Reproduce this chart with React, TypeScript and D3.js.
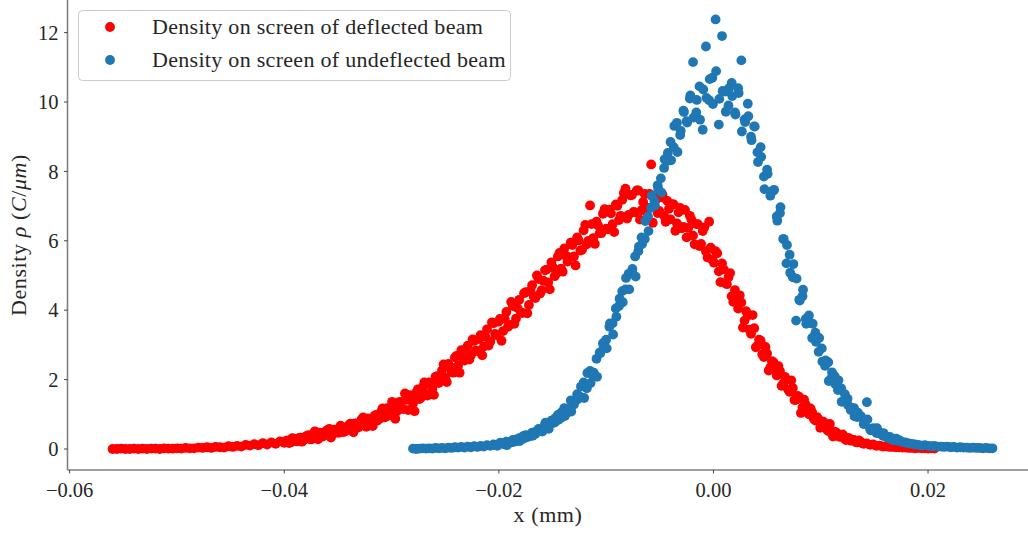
import React from "react";
import * as d3 from "d3";

// ---------- data (x in mm, density in C/µm) ----------
const deflectedBeamA: [number, number][] = [
  [-0.0560,0.00],[-0.0556,0.00],[-0.0552,0.01],[-0.0548,0.00],[-0.0544,0.00],[-0.0540,0.01],[-0.0536,0.00],[-0.0532,0.01],
  [-0.0528,0.00],[-0.0524,0.01],[-0.0520,0.01],[-0.0516,0.00],[-0.0512,0.02],[-0.0508,0.01],[-0.0504,0.01],[-0.0500,0.02],
  [-0.0496,0.01],[-0.0492,0.03],[-0.0488,0.02],[-0.0484,0.02],[-0.0480,0.04],[-0.0476,0.03],[-0.0472,0.05],[-0.0468,0.03],
  [-0.0464,0.06],[-0.0460,0.05],[-0.0456,0.04],[-0.0452,0.08],[-0.0448,0.06],[-0.0444,0.09],[-0.0440,0.07],[-0.0436,0.12],
  [-0.0432,0.10],[-0.0428,0.14],[-0.0424,0.11],[-0.0420,0.17],[-0.0416,0.13],[-0.0412,0.19],[-0.0408,0.15],[-0.0404,0.22],
  [-0.0400,0.18],[-0.0397,0.25],[-0.0394,0.19],[-0.0391,0.30],[-0.0388,0.22],[-0.0385,0.33],[-0.0382,0.26],[-0.0379,0.38],
  [-0.0376,0.28],[-0.0373,0.41],[-0.0370,0.31],[-0.0367,0.47],[-0.0364,0.36],[-0.0361,0.52],[-0.0358,0.58],[-0.0355,0.43],
  [-0.0352,0.56],[-0.0349,0.47],[-0.0346,0.63],[-0.0343,0.52],[-0.0340,0.68],[-0.0337,0.57],[-0.0334,0.74],[-0.0331,0.62],
  [-0.0328,0.85],[-0.0325,0.69],[-0.0322,0.88],[-0.0319,0.74],[-0.0316,0.95],[-0.0313,0.82],[-0.0310,1.06],[-0.0307,0.91],
  [-0.0304,1.18],[-0.0301,0.98],[-0.0298,1.25],[-0.0295,1.09],[-0.0292,1.36],[-0.0289,1.15],[-0.0286,1.42],[-0.0283,1.55],
  [-0.0280,1.31],[-0.0277,1.62],[-0.0274,1.44],[-0.0271,1.78],[-0.0268,1.58],[-0.0265,1.92],[-0.0262,1.74],[-0.0259,2.08],
  [-0.0256,1.90],[-0.0253,2.26],[-0.0250,2.05],[-0.0247,2.45],[-0.0244,2.22],[-0.0241,2.64],[-0.0238,2.40],[-0.0235,2.85],
  [-0.0232,2.55],[-0.0229,2.98],[-0.0226,2.70],[-0.0223,3.12],[-0.0220,2.82],[-0.0217,3.28],[-0.0214,2.95],[-0.0211,3.45],
  [-0.0208,3.10],[-0.0205,3.62],[-0.0202,3.28],[-0.0199,3.75],[-0.0196,3.40],[-0.0193,3.95],[-0.0190,3.58],[-0.0187,4.12],
  [-0.0184,3.76],[-0.0181,4.30],[-0.0178,3.92],[-0.0175,4.52],[-0.0172,4.15],[-0.0169,4.72],[-0.0166,4.35],[-0.0163,4.90],
  [-0.0160,4.58],[-0.0157,5.15],[-0.0154,4.80],[-0.0151,5.38],[-0.0148,4.98],[-0.0145,5.55],[-0.0142,5.20],[-0.0139,5.78],
  [-0.0136,5.40],[-0.0133,5.95],[-0.0130,5.55],[-0.0127,6.10],[-0.0124,5.72],[-0.0121,6.30],[-0.0118,5.90],[-0.0115,7.02],
  [-0.0112,6.08],[-0.0109,6.55],[-0.0106,6.22],[-0.0103,6.78],[-0.0100,6.35],[-0.0097,6.90],[-0.0094,6.48],[-0.0091,7.05],
  [-0.0088,6.60],[-0.0085,7.18],[-0.0082,7.50],[-0.0079,6.75],[-0.0076,7.32],[-0.0073,6.82],[-0.0070,7.45],[-0.0067,6.88],
  [-0.0064,7.35],[-0.0061,6.95],[-0.0058,8.20],[-0.0055,7.30],[-0.0052,6.80],[-0.0049,7.25],[-0.0046,6.72],[-0.0043,7.15],
  [-0.0040,6.62],[-0.0037,7.05],[-0.0034,6.50],[-0.0031,6.95],[-0.0028,6.40],[-0.0025,6.10],[-0.0022,6.72],[-0.0019,6.15],
  [-0.0016,6.48],[-0.0013,5.85],[-0.0010,6.28],[-0.0007,5.70],[-0.0004,6.55],[-0.0001,5.45],[0.0002,5.70],[0.0005,5.12],
  [0.0008,5.35],[0.0011,4.78],[0.0014,4.95],[0.0017,4.40],[0.0020,4.58],[0.0023,4.05],[0.0026,4.22],[0.0029,3.70],
  [0.0032,3.85],[0.0035,3.32],[0.0038,3.48],[0.0041,2.98],[0.0044,3.12],[0.0047,2.65],[0.0050,2.75],[0.0053,2.35],
  [0.0056,2.50],[0.0059,2.12],[0.0062,2.25],[0.0065,1.88],[0.0068,2.00],[0.0071,1.65],[0.0074,1.76],[0.0077,1.42],
  [0.0080,1.50],[0.0083,1.20],[0.0086,1.28],[0.0089,1.00],[0.0092,1.06],[0.0095,0.82],[0.0098,0.86],[0.0101,0.68],
  [0.0104,0.70],[0.0107,0.52],[0.0110,0.47],[0.0113,0.50],[0.0116,0.38],[0.0119,0.40],[0.0122,0.30],[0.0125,0.32],
  [0.0128,0.24],[0.0131,0.26],[0.0134,0.19],[0.0137,0.21],[0.0140,0.15],[0.0143,0.16],[0.0146,0.12],[0.0149,0.13],
  [0.0152,0.09],[0.0155,0.10],[0.0158,0.07],[0.0161,0.08],[0.0164,0.06],[0.0167,0.06],[0.0170,0.05],[0.0173,0.05],
  [0.0176,0.04],[0.0179,0.04],[0.0182,0.03],[0.0185,0.03],[0.0188,0.02],[0.0191,0.03],[0.0194,0.02],[0.0197,0.02],
  [0.0200,0.01],[0.0203,0.02],[0.0206,0.01],
];

const deflectedBeamB: [number, number][] = [
  [-0.03985,0.23],[-0.03955,0.17],[-0.03925,0.31],[-0.03895,0.23],[-0.03865,0.31],[-0.03835,0.21],[-0.03805,0.31],[-0.03775,0.40],
  [-0.03745,0.28],[-0.03715,0.51],[-0.03685,0.28],[-0.03655,0.44],[-0.03625,0.41],[-0.03595,0.55],[-0.03565,0.33],[-0.03535,0.56],
  [-0.03505,0.47],[-0.03475,0.67],[-0.03445,0.49],[-0.03415,0.59],[-0.03385,0.73],[-0.03355,0.48],[-0.03325,0.73],[-0.03295,0.66],
  [-0.03265,0.91],[-0.03235,0.64],[-0.03205,0.83],[-0.03175,0.66],[-0.03145,0.98],[-0.03115,0.87],[-0.03085,1.17],[-0.03055,0.92],
  [-0.03025,1.08],[-0.02995,1.36],[-0.02965,0.87],[-0.02935,1.34],[-0.02905,1.17],[-0.02875,1.60],[-0.02845,1.12],[-0.02815,1.48],
  [-0.02785,1.09],[-0.02755,1.72],[-0.02725,1.48],[-0.02695,1.92],[-0.02665,1.54],[-0.02635,1.85],[-0.02605,1.56],[-0.02575,2.10],
  [-0.02545,1.98],[-0.02515,2.44],[-0.02485,1.93],[-0.02455,2.37],[-0.02425,2.20],[-0.02395,2.68],[-0.02365,2.20],[-0.02335,2.63],
  [-0.02305,2.88],[-0.02275,2.58],[-0.02245,3.16],[-0.02215,2.84],[-0.02185,3.17],[-0.02155,2.70],[-0.02125,3.23],[-0.02095,2.98],
  [-0.02065,3.65],[-0.02035,3.32],[-0.02005,3.67],[-0.01975,3.12],[-0.01945,3.75],[-0.01915,3.52],[-0.01885,4.24],[-0.01855,3.61],
  [-0.01825,4.06],[-0.01795,3.94],[-0.01765,4.49],[-0.01735,3.91],[-0.01705,4.56],[-0.01675,4.39],[-0.01645,5.00],[-0.01615,4.48],
  [-0.01585,4.85],[-0.01555,5.17],[-0.01525,4.60],[-0.01495,5.23],[-0.01465,5.06],[-0.01435,5.65],[-0.01405,5.11],[-0.01375,5.57],
  [-0.01345,5.52],[-0.01315,5.88],[-0.01285,5.29],[-0.01255,6.01],[-0.01225,5.74],[-0.01195,6.46],[-0.01165,6.00],[-0.01135,6.48],
  [-0.01105,5.91],[-0.01075,6.44],[-0.01045,6.22],[-0.01015,6.91],[-0.00985,6.33],[-0.00955,6.79],[-0.00925,6.25],[-0.00895,7.01],
  [-0.00865,6.72],[-0.00835,7.38],[-0.00805,6.64],[-0.00775,7.31],[-0.00745,6.83],[-0.00715,7.45],[-0.00685,6.61],[-0.00655,7.12],
  [-0.00625,6.84],[-0.00595,7.35],[-0.00565,6.52],[-0.00535,7.19],[-0.00505,6.86],[-0.00475,7.33],[-0.00445,6.55],[-0.00415,6.92],
  [-0.00385,7.06],[-0.00355,6.29],[-0.00325,6.82],[-0.00295,6.36],[-0.00265,6.89],[-0.00235,6.37],[-0.00205,6.61],[-0.00175,5.90],
  [-0.00145,6.48],[-0.00115,5.91],[-0.00085,6.39],[-0.00055,5.52],[-0.00025,5.80],[0.00005,5.37],[0.00035,5.64],[0.00065,4.81],
  [0.00095,5.18],[0.00125,4.75],[0.00155,5.07],[0.00185,4.24],[0.00215,4.36],[0.00245,4.43],[0.00275,3.50],[0.00305,3.97],
  [0.00335,3.44],[0.00365,3.86],[0.00395,2.93],[0.00425,3.15],[0.00455,2.73],[0.00485,2.94],[0.00515,2.26],[0.00545,2.53],
  [0.00575,2.27],[0.00605,2.39],[0.00635,1.82],[0.00665,2.08],[0.00695,1.72],[0.00725,1.98],[0.00755,1.41],[0.00785,1.53],
  [0.00815,1.04],[0.00845,1.42],[0.00875,1.07],[0.00905,1.17],[0.00935,0.87],[0.00965,0.92],[0.00995,0.61],[0.01025,0.79],
  [0.01055,0.57],[0.01085,0.72],[0.01115,0.36],[0.01145,0.48],[0.01175,0.35],[0.01205,0.42],[0.01235,0.26],[0.01265,0.31],
  [0.01295,0.26],[0.01325,0.20],[0.01355,0.25],[0.01385,0.17],
];

const undeflectedBeamA: [number, number][] = [
  [-0.0280,0.01],[-0.0277,0.00],[-0.0274,0.01],[-0.0271,0.02],[-0.0268,0.01],[-0.0265,0.02],[-0.0262,0.01],[-0.0259,0.03],
  [-0.0256,0.02],[-0.0253,0.03],[-0.0250,0.02],[-0.0247,0.04],[-0.0244,0.03],[-0.0241,0.05],[-0.0238,0.04],[-0.0235,0.06],
  [-0.0232,0.04],[-0.0229,0.07],[-0.0226,0.05],[-0.0223,0.08],[-0.0220,0.06],[-0.0217,0.09],[-0.0214,0.07],[-0.0211,0.11],
  [-0.0208,0.09],[-0.0205,0.13],[-0.0202,0.11],[-0.0199,0.17],[-0.0196,0.14],[-0.0193,0.21],[-0.0190,0.18],[-0.0187,0.26],
  [-0.0184,0.22],[-0.0181,0.31],[-0.0178,0.29],[-0.0175,0.40],[-0.0172,0.36],[-0.0169,0.47],[-0.0166,0.43],[-0.0163,0.58],
  [-0.0160,0.52],[-0.0157,0.70],[-0.0154,0.62],[-0.0151,0.82],[-0.0148,0.76],[-0.0145,0.98],[-0.0142,0.90],[-0.0139,1.18],
  [-0.0136,1.05],[-0.0133,1.40],[-0.0130,1.28],[-0.0127,1.58],[-0.0124,1.50],[-0.0121,1.92],[-0.0118,1.75],[-0.0115,2.25],
  [-0.0112,2.10],[-0.0109,2.60],[-0.0106,2.78],[-0.0103,3.05],[-0.0100,3.15],[-0.0097,3.52],[-0.0094,3.62],[-0.0091,4.05],
  [-0.0088,4.12],[-0.0085,4.55],[-0.0082,4.60],[-0.0079,5.05],[-0.0076,5.12],[-0.0073,5.55],[-0.0070,5.70],[-0.0067,6.10],
  [-0.0064,6.05],[-0.0061,6.70],[-0.0058,6.95],[-0.0055,7.15],[-0.0052,7.60],[-0.0049,7.80],[-0.0046,8.10],[-0.0043,8.30],
  [-0.0040,8.85],[-0.0037,8.70],[-0.0034,9.40],[-0.0031,9.05],[-0.0028,9.75],[-0.0025,9.45],[-0.0022,10.10],[-0.0019,11.15],
  [-0.0016,9.70],[-0.0013,10.45],[-0.0010,9.20],[-0.0007,11.60],[-0.0004,10.05],[-0.0001,10.70],[0.0002,12.38],[0.0005,9.35],
  [0.0008,11.90],[0.0011,10.30],[0.0014,9.90],[0.0017,10.55],[0.0020,9.70],[0.0023,10.40],[0.0026,11.20],[0.0029,9.50],
  [0.0032,9.95],[0.0035,9.00],[0.0038,9.30],[0.0041,8.55],[0.0044,8.70],[0.0047,7.85],[0.0050,8.05],[0.0053,7.30],
  [0.0056,7.45],[0.0059,6.70],[0.0062,6.80],[0.0065,6.05],[0.0068,5.35],[0.0071,5.60],[0.0074,4.95],[0.0077,3.70],
  [0.0080,4.30],[0.0083,4.40],[0.0086,3.75],[0.0089,3.85],[0.0092,3.20],[0.0095,3.35],[0.0098,2.80],[0.0101,2.90],
  [0.0104,2.40],[0.0107,2.50],[0.0110,2.05],[0.0113,2.10],[0.0116,1.70],[0.0119,1.75],[0.0122,1.40],[0.0125,1.45],
  [0.0128,1.12],[0.0131,1.18],[0.0134,0.92],[0.0137,0.95],[0.0140,0.72],[0.0143,1.35],[0.0146,0.58],[0.0149,0.60],
  [0.0152,0.46],[0.0155,0.48],[0.0158,0.38],[0.0161,0.36],[0.0164,0.30],[0.0167,0.29],[0.0170,0.25],[0.0173,0.23],
  [0.0176,0.20],[0.0179,0.19],[0.0182,0.16],[0.0185,0.15],[0.0188,0.13],[0.0191,0.12],[0.0194,0.10],[0.0197,0.11],
  [0.0200,0.09],[0.0203,0.08],[0.0206,0.09],[0.0209,0.07],[0.0212,0.07],[0.0215,0.06],[0.0218,0.07],[0.0221,0.05],
  [0.0224,0.06],[0.0227,0.04],[0.0230,0.05],[0.0233,0.04],[0.0236,0.04],[0.0239,0.03],[0.0242,0.04],[0.0245,0.03],
  [0.0248,0.03],[0.0251,0.02],[0.0254,0.03],[0.0257,0.02],[0.0260,0.02],
];

const undeflectedBeamB: [number, number][] = [
  [-0.02015,0.09],[-0.01985,0.18],[-0.01955,0.16],[-0.01925,0.11],[-0.01895,0.20],[-0.01865,0.20],[-0.01835,0.28],[-0.01805,0.23],
  [-0.01775,0.37],[-0.01745,0.33],[-0.01715,0.40],[-0.01685,0.38],[-0.01655,0.50],[-0.01625,0.56],[-0.01595,0.50],[-0.01565,0.76],
  [-0.01535,0.58],[-0.01505,0.74],[-0.01475,0.89],[-0.01445,0.84],[-0.01415,1.06],[-0.01385,0.95],[-0.01355,1.15],[-0.01325,1.08],
  [-0.01295,1.38],[-0.01265,1.43],[-0.01235,1.80],[-0.01205,1.47],[-0.01175,2.19],[-0.01145,1.90],[-0.01115,2.20],[-0.01085,2.08],
  [-0.01055,2.76],[-0.01025,2.92],[-0.00995,2.90],[-0.00965,3.62],[-0.00935,3.30],[-0.00905,3.81],[-0.00875,4.33],[-0.00845,4.23],
  [-0.00815,4.93],[-0.00785,4.60],[-0.00755,5.19],[-0.00725,4.97],[-0.00695,5.83],[-0.00665,5.91],[-0.00635,6.57],[-0.00605,6.28],
  [-0.00575,7.30],[-0.00545,7.02],[-0.00515,7.50],[-0.00485,7.39],[-0.00455,8.35],[-0.00425,8.53],[-0.00395,8.32],[-0.00365,9.31],
  [-0.00335,8.56],[-0.00305,9.17],[-0.00275,9.71],[-0.00245,9.41],[-0.00215,10.19],[-0.00185,9.55],[-0.00155,10.06],[-0.00125,9.49],
  [-0.00095,10.36],[-0.00065,10.12],[-0.00035,10.66],[-0.00005,9.94],[0.00025,10.89],[0.00055,10.09],[0.00085,10.32],[0.00115,9.72],
  [0.00145,10.40],[0.00175,10.17],[0.00205,9.64],[0.00235,10.26],[0.00265,9.15],[0.00295,9.42],[0.00325,9.59],[0.00355,8.90],
  [0.00385,9.29],[0.00415,8.27],[0.00445,8.42],[0.00475,7.49],[0.00505,7.93],[0.00535,7.41],[0.00565,7.47],[0.00595,6.58],
  [0.00625,6.97],[0.00655,6.05],[0.00685,5.88],[0.00715,5.08],[0.00745,5.33],[0.00775,4.91],[0.00805,4.28],[0.00835,4.59],
  [0.00865,3.61],[0.00895,3.65],[0.00925,3.61],[0.00955,3.09],[0.00985,3.20],[0.01015,2.52],[0.01045,2.55],[0.01075,1.96],
  [0.01105,2.21],[0.01135,1.87],[0.01165,1.98],[0.01195,1.36],[0.01225,1.58],[0.01255,1.26],[0.01285,1.19],[0.01315,0.94],
  [0.01345,1.05],[0.01375,0.93],[0.01405,0.73],[0.01435,0.85],[0.01465,0.54],[0.01495,0.57],[0.01525,0.60],[0.01555,0.44],
  [0.01585,0.46],[0.01615,0.34],[0.01645,0.35],[0.01675,0.26],[0.01705,0.30],[0.01735,0.25],
];

const deflectedBeam = [...deflectedBeamA, ...deflectedBeamB];
const undeflectedBeam = [...undeflectedBeamA, ...undeflectedBeamB];

const xTicks = [-0.06, -0.04, -0.02, 0.0, 0.02];
const yTicks = [0, 2, 4, 6, 8, 10, 12];
const seriesLabels = [
  "Density on screen of deflected beam",
  "Density on screen of undeflected beam",
];
const seriesColors = ["#ff0000", "#1f77b4"];

// ---------- layout ----------
const W = 1028;
const H = 533;
const FONT = "'Liberation Serif', 'DejaVu Serif', serif";
const left = 67.5;
const bottom = 470;
const R = 4.9;

export default function App() {
  const x = d3.scaleLinear().domain([-0.0602, 0.0302]).range([left, left + 0.0904 * 10730]);
  const y = d3.scaleLinear().domain([-0.605, 12.94]).range([bottom, 0]);
  const fmtX = d3.format(".2f");
  const series = [deflectedBeam, undeflectedBeam];
  const textColor = "#262626";

  return (
    <svg
      width={W}
      height={H}
      viewBox={`0 0 ${W} ${H}`}
      style={{ position: "absolute", left: 0, top: 0, background: "#fff" }}
      fontFamily={FONT}
    >
      <rect x={0} y={0} width={W} height={H} fill="#fff" />
      {/* points */}
      {series.map((s, si) => (
        <g key={si} fill={seriesColors[si]}>
          {s.map((d, i) => (
            <circle key={i} cx={x(d[0])} cy={y(d[1])} r={R} />
          ))}
        </g>
      ))}

      {/* spines */}
      <line x1={left} x2={left} y1={0} y2={bottom} stroke="#808080" strokeWidth={1.6} />
      <line x1={left} x2={W} y1={bottom} y2={bottom} stroke="#808080" strokeWidth={1.6} />

      {/* x ticks */}
      {xTicks.map((t) => (
        <g key={t} transform={`translate(${x(t)},${bottom})`}>
          <line y1={0} y2={3.5} stroke="#333" strokeWidth={0.9} />
          <text y={27} textAnchor="middle" fontSize={20.5} fill={textColor}>
            {fmtX(t)}
          </text>
        </g>
      ))}
      {/* y ticks */}
      {yTicks.map((t) => (
        <g key={t} transform={`translate(${left},${y(t)})`}>
          <line x1={0} x2={-3.5} stroke="#333" strokeWidth={0.9} />
          <text x={-9} dy="0.35em" textAnchor="end" fontSize={20.5} fill={textColor}>
            {t}
          </text>
        </g>
      ))}

      {/* axis labels */}
      <text x={548} y={522} textAnchor="middle" fontSize={22} letterSpacing={0.6} fill={textColor}>
        x (mm)
      </text>
      <text
        transform={`translate(26,235) rotate(-90)`}
        textAnchor="middle"
        fontSize={22}
        letterSpacing={0.6}
        fill={textColor}
      >
        Density <tspan fontStyle="italic">ρ</tspan> (<tspan fontStyle="italic">C</tspan>/
        <tspan fontStyle="italic">μm</tspan>)
      </text>

      {/* legend */}
      <g>
        <rect x={78.5} y={10.5} width={432} height={70} rx={4} fill="#fff" fillOpacity={0.8} stroke="#cccccc" strokeWidth={1} />
        {seriesLabels.map((lbl, i) => (
          <g key={lbl} transform={`translate(0,${27 + i * 33})`}>
            <circle cx={110} cy={0} r={R} fill={seriesColors[i]} />
            <text x={152} dy="0.33em" fontSize={22} letterSpacing={0.3} fill={textColor}>
              {lbl}
            </text>
          </g>
        ))}
      </g>
    </svg>
  );
}
